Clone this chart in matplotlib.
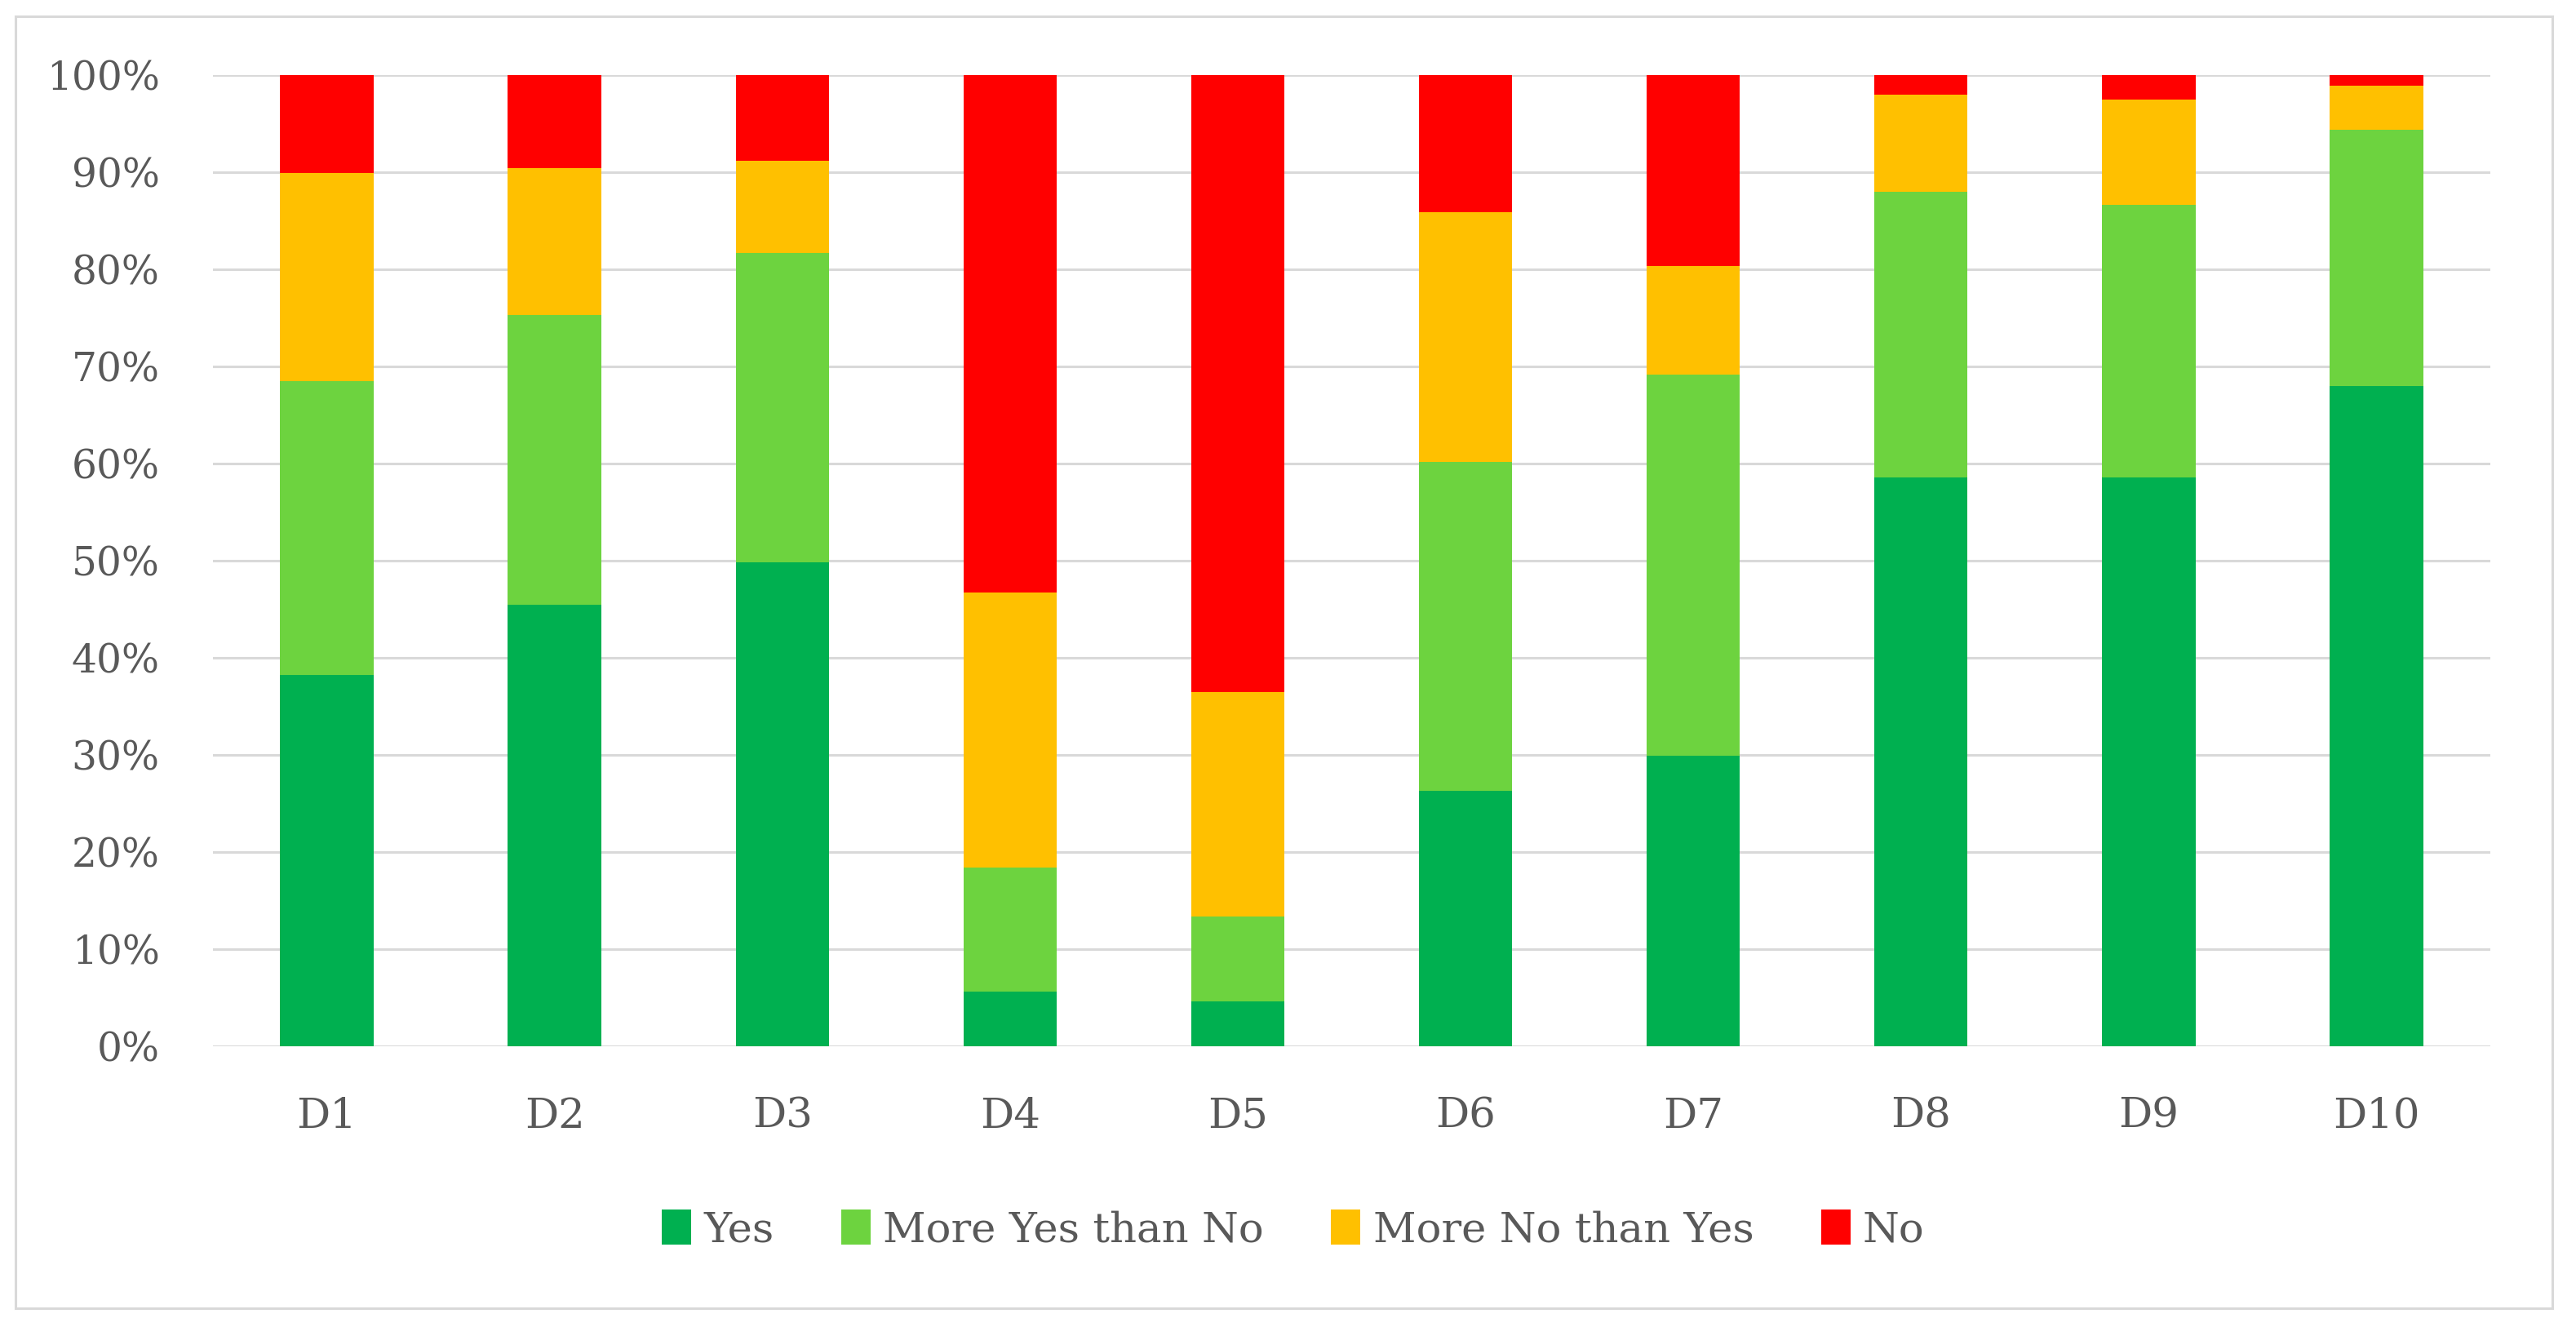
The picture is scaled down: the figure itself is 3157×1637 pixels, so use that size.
import matplotlib.pyplot as plt
from matplotlib.patches import Rectangle
from matplotlib.ticker import FuncFormatter

categories = ["D1", "D2", "D3", "D4", "D5", "D6", "D7", "D8", "D9", "D10"]
yes = [38.2, 45.5, 49.8, 5.6, 4.6, 26.3, 29.9, 58.6, 58.6, 68.0]
more_yes = [30.3, 29.8, 31.9, 12.8, 8.8, 33.9, 39.3, 29.4, 28.0, 26.4]
more_no = [21.4, 15.1, 9.5, 28.3, 23.1, 25.7, 11.1, 10.0, 10.9, 4.5]
no = [10.1, 9.6, 8.8, 53.3, 63.5, 14.1, 19.7, 2.0, 2.5, 1.1]

series = [
    ("Yes", yes, "#00b050"),
    ("More Yes than No", more_yes, "#6dd33f"),
    ("More No than Yes", more_no, "#ffc000"),
    ("No", no, "#ff0000"),
]

plt.rcParams["font.family"] = ["DejaVu Serif"]
text_color = "#595959"
grid_color = "#d9d9d9"

fig = plt.figure(figsize=(31.57, 16.37), dpi=100)
ax = fig.add_axes([261 / 3157, 1 - 1282 / 1637, (3052 - 261) / 3157, (1282 - 92) / 1637])

x = range(len(categories))
bottom = [0.0] * len(categories)
for label, vals, color in series:
    ax.bar(x, vals, width=0.41, bottom=bottom, color=color, label=label, zorder=3)
    bottom = [b + v for b, v in zip(bottom, vals)]

ax.set_xlim(-0.5, len(categories) - 0.5)
ax.set_ylim(0, 100)
ax.set_yticks(range(0, 101, 10))
ax.yaxis.set_major_formatter(FuncFormatter(lambda v, p: f"{v:.0f}%"))
ax.set_xticks(list(x))
ax.set_xticklabels(categories)
ax.grid(axis="y", color=grid_color, linewidth=2.2, zorder=0)
ax.tick_params(axis="y", length=0, pad=47, labelsize=35, labelcolor=text_color)
ax.tick_params(axis="x", length=0, pad=44, labelsize=37, labelcolor=text_color)
for s in ax.spines.values():
    s.set_visible(False)

fig.legend(loc="center", bbox_to_anchor=(0.502, 1 - 1507 / 1637), ncol=4,
           frameon=False, fontsize=37, labelcolor=text_color,
           handlelength=0.7, handleheight=0.9, handletextpad=0.3, columnspacing=1.6)

# outer chart border
fig.patches.append(Rectangle((19 / 3157, 1 - 1603 / 1637), (3128 - 19) / 3157, (1603 - 20) / 1637,
                             transform=fig.transFigure, fill=False,
                             edgecolor=grid_color, linewidth=2.2))

fig.savefig("out.png", dpi=100, facecolor="white")
